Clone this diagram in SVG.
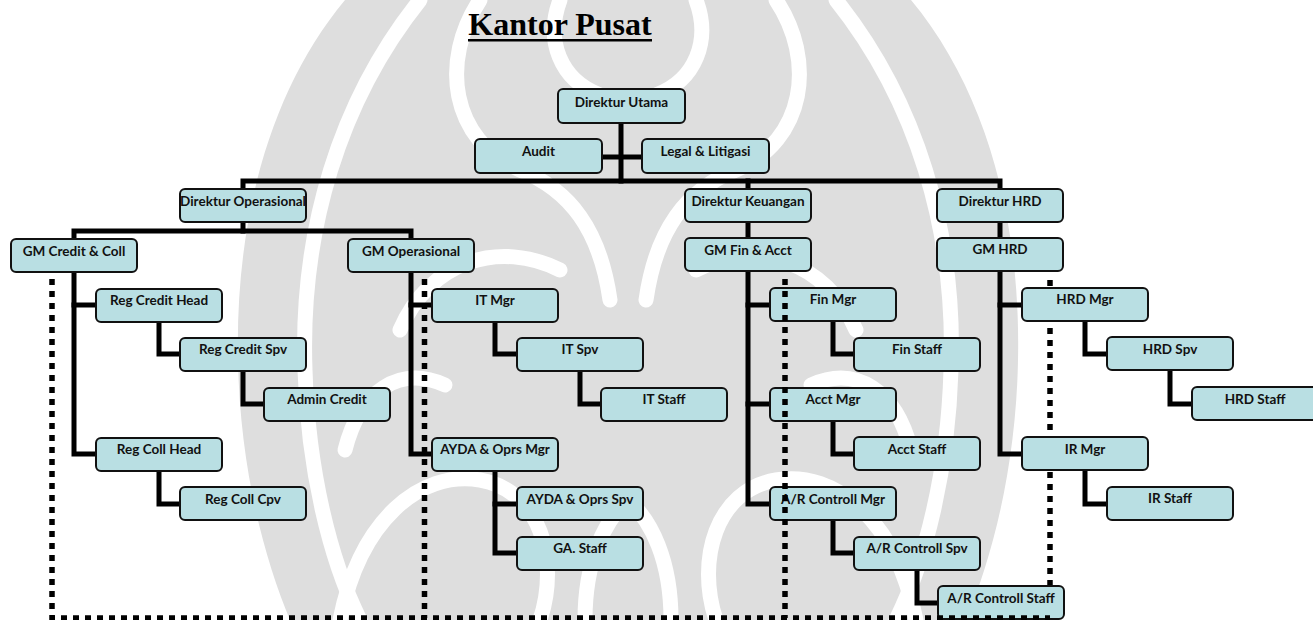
<svg xmlns="http://www.w3.org/2000/svg" width="1313" height="620" viewBox="0 0 1313 620">
<style>
.box rect{fill:#b9dfe3;stroke:#111;stroke-width:2}
.box text{font-family:Lato,"Liberation Sans",Arial,sans-serif;font-weight:bold;font-size:13.5px;fill:#111;text-anchor:middle}
.con path{fill:none;stroke:#000;stroke-width:5;stroke-linejoin:miter;stroke-linecap:square}
.dot path{fill:none;stroke:#000;stroke-width:5.5;stroke-dasharray:6 6}
.wm path.w{fill:none;stroke:#fff;stroke-width:15;stroke-linecap:round}
</style>
<rect width="1313" height="620" fill="#fff"/>
<g id="watermark" class="wm">
<path d="M345,0 C270,90 235,220 238,360 C240,470 265,560 290,620 L966,620 C991,560 1016,470 1018,360 C1021,220 986,90 911,0 Z" fill="#dedede"/>
<path class="w" d="M420,0 C340,100 300,230 305,370 C308,470 330,560 360,620"/>
<path class="w" d="M836,0 C916,100 956,230 951,370 C948,470 926,560 896,620"/>
<path class="w" d="M480,0 C440,60 450,140 520,170 C570,190 600,230 610,300"/>
<path class="w" d="M776,0 C816,60 806,140 736,170 C686,190 656,230 646,300"/>
<path class="w" d="M400,330 C430,260 500,240 560,270"/>
<path class="w" d="M856,330 C826,260 756,240 696,270"/>
<path class="w" d="M340,620 C360,520 420,470 480,480 C540,490 560,560 540,620"/>
<path class="w" d="M916,620 C896,520 836,470 776,480 C716,490 696,560 716,620"/>
<path class="w" d="M585,620 C585,560 605,520 628,500 C651,520 671,560 671,620"/>
<path class="w" d="M345,450 C360,390 400,365 445,385"/>
<path class="w" d="M911,450 C896,390 856,365 811,385"/>
<path class="w" d="M560,0 C545,40 560,80 600,95"/>
<path class="w" d="M696,0 C711,40 696,80 656,95"/>
</g>
<g id="title">
<text x="560" y="35" font-family="'Liberation Serif','Times New Roman',serif" font-weight="bold" font-size="32" text-anchor="middle" fill="#000">Kantor Pusat</text>
<rect x="468" y="39" width="184" height="2.5" fill="#000"/>
</g>
<g id="dotted-under" class="dot">
<path d="M1050,280 V618"/>
</g>
<g id="connectors" class="con">
<path d="M621,122 V181"/>
<path d="M601,157 H643"/>
<path d="M243,189 V181 H1000 V189"/>
<path d="M748,181 V189"/>
<path d="M243,222 V231"/>
<path d="M74,239 V231 H411 V239"/>
<path d="M74,272 V454 H96"/>
<path d="M74,305 H96"/>
<path d="M159,322 V354 H180"/>
<path d="M243,371 V404 H264"/>
<path d="M159,471 V504 H180"/>
<path d="M411,272 V454 H432"/>
<path d="M411,305 H432"/>
<path d="M495,322 V354 H517"/>
<path d="M580,371 V404 H601"/>
<path d="M495,471 V553 H517"/>
<path d="M495,504 H517"/>
<path d="M748,222 V238"/>
<path d="M748,271 V504 H770"/>
<path d="M748,305 H770"/>
<path d="M748,404 H770"/>
<path d="M833,321 V354 H854"/>
<path d="M833,421 V454 H854"/>
<path d="M833,520 V553 H854"/>
<path d="M917,570 V603 H938"/>
<path d="M1000,222 V238"/>
<path d="M1000,271 V454 H1022"/>
<path d="M1000,305 H1022"/>
<path d="M1085,321 V354 H1107"/>
<path d="M1170,370 V404 H1192"/>
<path d="M1085,470 V504 H1107"/>
</g>
<g id="n-direktur-utama" class="box"><rect x="558" y="89" width="127" height="34" rx="5"/><text x="621.5" y="107">Direktur Utama</text></g>
<g id="n-audit" class="box"><rect x="475" y="139" width="127" height="34" rx="5"/><text x="538.5" y="156">Audit</text></g>
<g id="n-legal" class="box"><rect x="642" y="139" width="127" height="34" rx="5"/><text x="705.5" y="156">Legal &amp; Litigasi</text></g>
<g id="n-dir-ops" class="box"><rect x="180" y="189" width="126" height="33" rx="5"/><text x="243" y="206">Direktur Operasional</text></g>
<g id="n-dir-keu" class="box"><rect x="685" y="189" width="126" height="33" rx="5"/><text x="748" y="206">Direktur Keuangan</text></g>
<g id="n-dir-hrd" class="box"><rect x="937" y="189" width="126" height="33" rx="5"/><text x="1000" y="206">Direktur HRD</text></g>
<g id="n-gm-credit" class="box"><rect x="11" y="239" width="126" height="33" rx="5"/><text x="74" y="256">GM Credit &amp; Coll</text></g>
<g id="n-gm-ops" class="box"><rect x="348" y="239" width="126" height="33" rx="5"/><text x="411" y="256">GM Operasional</text></g>
<g id="n-gm-fin" class="box"><rect x="685" y="238" width="126" height="33" rx="5"/><text x="748" y="255">GM Fin &amp; Acct</text></g>
<g id="n-gm-hrd" class="box"><rect x="937" y="238" width="126" height="33" rx="5"/><text x="1000" y="254">GM HRD</text></g>
<g id="n-reg-credit-head" class="box"><rect x="96" y="289" width="126" height="33" rx="5"/><text x="159" y="305">Reg Credit Head</text></g>
<g id="n-it-mgr" class="box"><rect x="432" y="289" width="126" height="33" rx="5"/><text x="495" y="305">IT Mgr</text></g>
<g id="n-fin-mgr" class="box"><rect x="770" y="288" width="126" height="33" rx="5"/><text x="833" y="304">Fin Mgr</text></g>
<g id="n-hrd-mgr" class="box"><rect x="1022" y="288" width="126" height="33" rx="5"/><text x="1085" y="304">HRD Mgr</text></g>
<g id="n-reg-credit-spv" class="box"><rect x="180" y="338" width="126" height="33" rx="5"/><text x="243" y="354">Reg Credit Spv</text></g>
<g id="n-it-spv" class="box"><rect x="517" y="338" width="126" height="33" rx="5"/><text x="580" y="354">IT Spv</text></g>
<g id="n-fin-staff" class="box"><rect x="854" y="338" width="126" height="33" rx="5"/><text x="917" y="354">Fin Staff</text></g>
<g id="n-hrd-spv" class="box"><rect x="1107" y="337" width="126" height="33" rx="5"/><text x="1170" y="354">HRD Spv</text></g>
<g id="n-admin-credit" class="box"><rect x="264" y="388" width="126" height="33" rx="5"/><text x="327" y="404">Admin Credit</text></g>
<g id="n-it-staff" class="box"><rect x="601" y="388" width="126" height="33" rx="5"/><text x="664" y="404">IT Staff</text></g>
<g id="n-acct-mgr" class="box"><rect x="770" y="388" width="126" height="33" rx="5"/><text x="833" y="404">Acct Mgr</text></g>
<g id="n-hrd-staff" class="box"><rect x="1192" y="387" width="126" height="33" rx="5"/><text x="1255" y="404">HRD Staff</text></g>
<g id="n-reg-coll-head" class="box"><rect x="96" y="438" width="126" height="33" rx="5"/><text x="159" y="454">Reg Coll Head</text></g>
<g id="n-ayda-mgr" class="box"><rect x="432" y="438" width="126" height="33" rx="5"/><text x="495" y="454">AYDA &amp; Oprs Mgr</text></g>
<g id="n-acct-staff" class="box"><rect x="854" y="437" width="126" height="33" rx="5"/><text x="917" y="454">Acct Staff</text></g>
<g id="n-ir-mgr" class="box"><rect x="1022" y="437" width="126" height="33" rx="5"/><text x="1085" y="454">IR Mgr</text></g>
<g id="n-reg-coll-cpv" class="box"><rect x="180" y="487" width="126" height="33" rx="5"/><text x="243" y="504">Reg Coll Cpv</text></g>
<g id="n-ayda-spv" class="box"><rect x="517" y="487" width="126" height="33" rx="5"/><text x="580" y="504">AYDA &amp; Oprs Spv</text></g>
<g id="n-ar-mgr" class="box"><rect x="770" y="487" width="126" height="33" rx="5"/><text x="833" y="504">A/R Controll Mgr</text></g>
<g id="n-ir-staff" class="box"><rect x="1107" y="487" width="126" height="33" rx="5"/><text x="1170" y="503">IR Staff</text></g>
<g id="n-ga-staff" class="box"><rect x="517" y="537" width="126" height="33" rx="5"/><text x="580" y="553">GA. Staff</text></g>
<g id="n-ar-spv" class="box"><rect x="854" y="537" width="126" height="33" rx="5"/><text x="917" y="553">A/R Controll Spv</text></g>
<g id="n-ar-staff" class="box"><rect x="938" y="586" width="126" height="33" rx="5"/><text x="1001" y="603">A/R Controll Staff</text></g>
<g id="dotted-over" class="dot">
<path d="M52,279 V618 H1050"/>
<path d="M424.5,279 V618"/>
<path d="M785,279 V618"/>
</g>
</svg>
